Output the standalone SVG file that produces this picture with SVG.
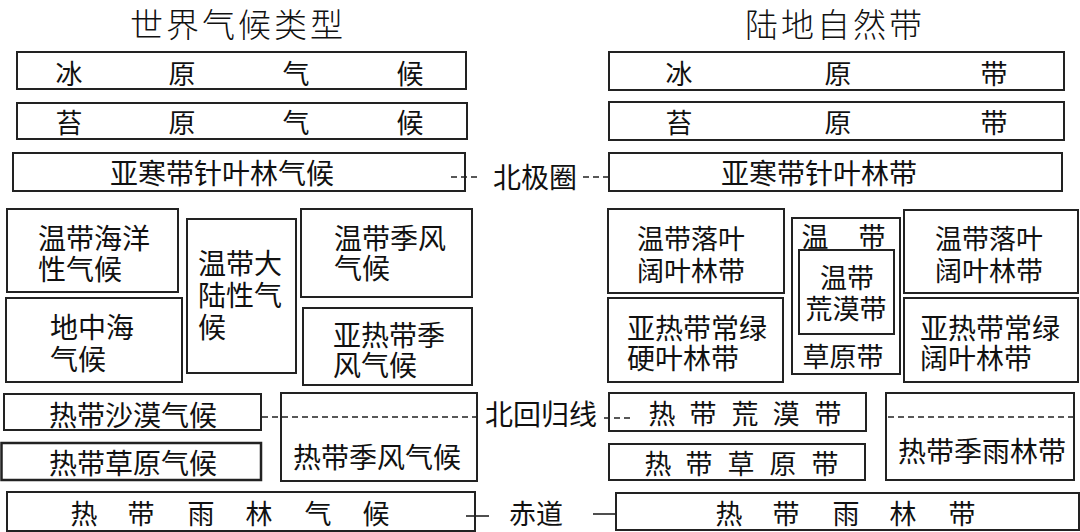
<svg xmlns="http://www.w3.org/2000/svg" width="1080" height="532" viewBox="0 0 1080 532">
<style>
rect{fill:#fff;stroke:#222;stroke-width:2}
text{font-family:"Noto Sans CJK SC","Noto Sans",sans-serif;font-size:27px;fill:#111;dominant-baseline:central}
.t{font-size:33px;font-weight:300;text-anchor:middle;letter-spacing:3px}
.m{text-anchor:middle}
.s{font-size:28px}
.dash{stroke:#222;stroke-width:1.6;stroke-dasharray:6 4;fill:none}
.solid{stroke:#222;stroke-width:1.6;fill:none}
</style>
<rect x="0" y="0" width="1080" height="532" style="stroke:none"/>
<g id="titles">
<text class="t" x="238" y="23">世界气候类型</text>
<text class="t" x="835" y="23">陆地自然带</text>
</g>
<g id="L1"><rect x="17" y="52" width="449" height="37"/><text class="m" x="69 182 296 410" y="72">冰原气候</text></g>
<g id="L2"><rect x="17" y="103" width="450" height="36"/><text class="m" x="69 182 296 410" y="121">苔原气候</text></g>
<g id="L3"><rect x="13" y="153" width="452" height="38"/><text class="s" x="110" y="172">亚寒带针叶林气候</text></g>
<g id="L4"><rect x="7" y="209" width="171" height="83"/><text class="s"><tspan x="38" y="237">温带海洋</tspan><tspan x="38" y="268">性气候</tspan></text></g>
<g id="L5"><rect x="6" y="298" width="176" height="84"/><text class="s"><tspan x="50" y="326">地中海</tspan><tspan x="50" y="358">气候</tspan></text></g>
<g id="L6"><rect x="187" y="219" width="109" height="154"/><text class="s"><tspan x="198" y="262">温带大</tspan><tspan x="198" y="294">陆性气</tspan><tspan x="198" y="326">候</tspan></text></g>
<g id="L7"><rect x="301" y="209" width="171" height="88"/><text class="s"><tspan x="334" y="237">温带季风</tspan><tspan x="334" y="267">气候</tspan></text></g>
<g id="L8"><rect x="303" y="308" width="169" height="77"/><text class="s"><tspan x="333" y="334">亚热带季</tspan><tspan x="333" y="364">风气候</tspan></text></g>
<g id="L9"><rect x="4" y="394" width="257" height="36"/><text class="s" x="49" y="414">热带沙漠气候</text></g>
<g id="L10"><rect x="1.5" y="443" width="259.5" height="37" style="stroke-width:2.5"/><text class="s" x="49" y="462">热带草原气候</text></g>
<g id="L11"><rect x="281" y="393" width="196" height="88"/><text class="s" x="293" y="456">热带季风气候</text></g>
<g id="L12"><rect x="7" y="492" width="468" height="39"/><text class="m" x="84 141 201 259 318 376" y="512">热带雨林气候</text></g>
<g id="R1"><rect x="609" y="52" width="455" height="38"/><text class="m" x="679 838 994" y="72">冰原带</text></g>
<g id="R2"><rect x="609" y="102" width="455" height="38"/><text class="m" x="679 838 994" y="121">苔原带</text></g>
<g id="R3"><rect x="609" y="153" width="453" height="38"/><text class="s" x="721" y="172">亚寒带针叶林带</text></g>
<g id="R4"><rect x="608" y="209" width="176" height="84"/><text><tspan x="637" y="237">温带落叶</tspan><tspan x="637" y="269">阔叶林带</tspan></text></g>
<g id="R5"><rect x="608" y="298" width="175" height="84"/><text class="s"><tspan x="627" y="327">亚热带常绿</tspan><tspan x="627" y="357">硬叶林带</tspan></text></g>
<g id="R6"><rect x="792" y="218" width="108" height="156"/><text class="m"><tspan x="815 872" y="235">温带</tspan><tspan x="843" y="355">草原带</tspan></text>
<g id="R6i"><rect x="799" y="250" width="95" height="84"/><text class="m"><tspan x="847" y="276">温带</tspan><tspan x="846" y="307">荒漠带</tspan></text></g></g>
<g id="R7"><rect x="904" y="210" width="174" height="83"/><text><tspan x="935" y="237">温带落叶</tspan><tspan x="935" y="269">阔叶林带</tspan></text></g>
<g id="R8"><rect x="904" y="298" width="174" height="84"/><text class="s"><tspan x="920" y="327">亚热带常绿</tspan><tspan x="920" y="357">阔叶林带</tspan></text></g>
<g id="R9"><rect x="609" y="393" width="257" height="38"/><text class="m" x="662 703 745 786 828" y="412">热带荒漠带</text></g>
<g id="R10"><rect x="609" y="444" width="256" height="36"/><text class="m" x="658 699 741 783 825" y="462">热带草原带</text></g>
<g id="R11"><rect x="886" y="393" width="188" height="87"/><text class="s" x="898" y="450">热带季雨林带</text></g>
<g id="R12"><rect x="616" y="493" width="463" height="37"/><text class="m" x="729 786 846 903 962" y="512">热带雨林带</text></g>
<g id="connectors">
<line class="dash" x1="451" y1="177" x2="478" y2="177"/>
<line class="dash" x1="583" y1="177" x2="609" y2="177"/>
<line class="dash" x1="262" y1="417" x2="476" y2="417"/>
<line class="dash" x1="604" y1="418" x2="632" y2="418"/>
<line class="dash" x1="888" y1="417" x2="1073" y2="417"/>
<line class="solid" x1="466" y1="516" x2="489" y2="516"/>
<line class="solid" x1="593" y1="514" x2="616" y2="514"/>
<text class="s" x="493" y="176">北极圈</text>
<text class="s" x="485" y="413">北回归线</text>
<text x="509" y="512">赤道</text>
</g>
</svg>
